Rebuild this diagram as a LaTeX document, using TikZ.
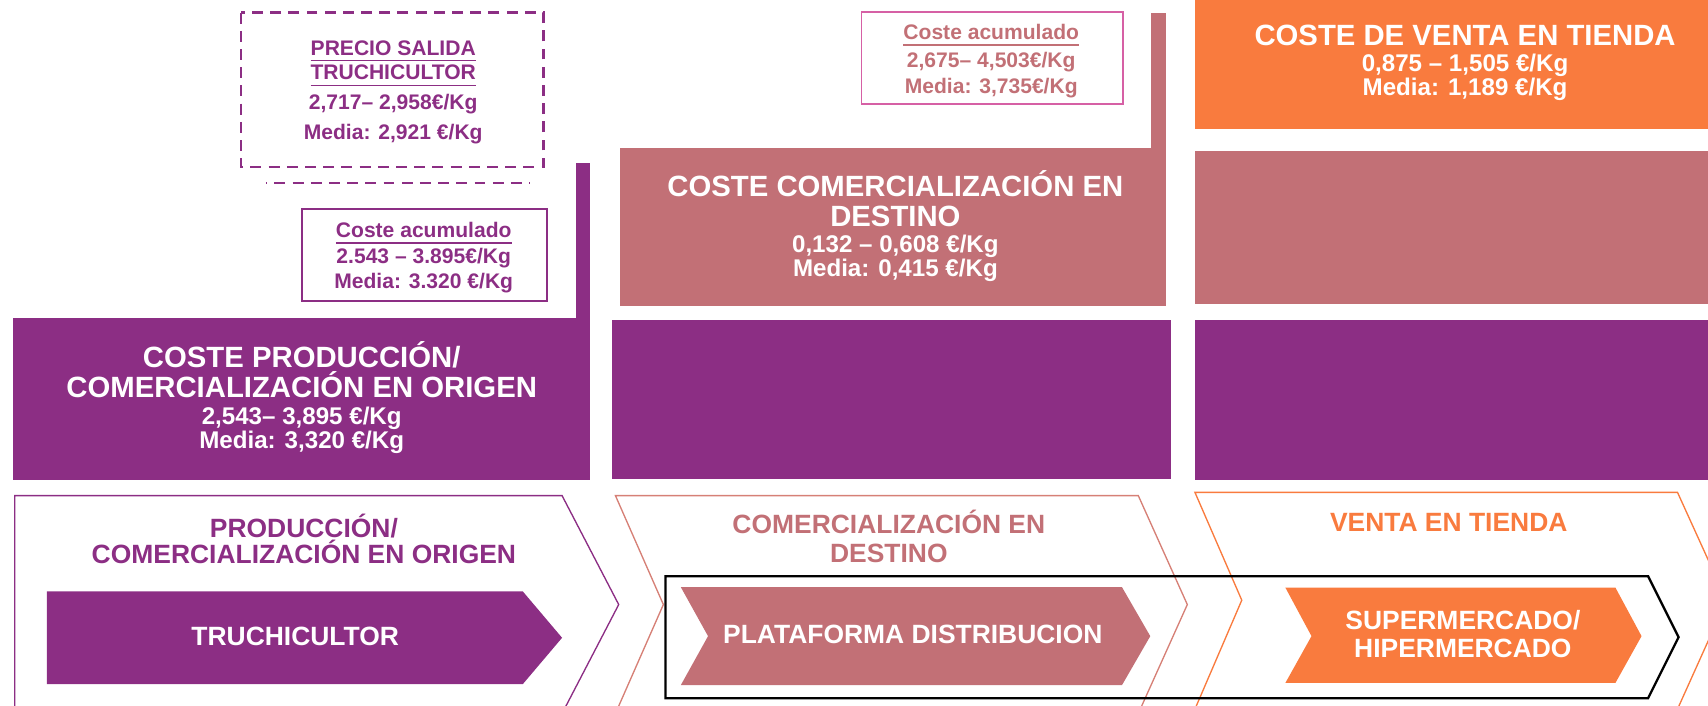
\documentclass[tikz,border=0pt]{standalone}
\usepackage{fontspec}
\setmainfont{Liberation Sans}
\definecolor{cpur}{RGB}{140,46,132}
\definecolor{crose}{RGB}{194,112,118}
\definecolor{corange}{RGB}{249,123,62}
\definecolor{cmag}{RGB}{214,96,165}
\definecolor{csalmon}{RGB}{214,128,118}
\begin{document}
\begin{tikzpicture}[x=0.01cm,y=-0.01cm,
  ttl/.style={font=\fontsize{7.65}{8}\selectfont\bfseries, anchor=base, inner sep=0pt},
  val/.style={font=\fontsize{6.3}{6.5}\selectfont\bfseries, anchor=base, inner sep=0pt},
  sml/.style={font=\fontsize{5.5}{6}\selectfont\bfseries, anchor=base, inner sep=0pt},
  lab/.style={font=\fontsize{6.9}{7.4}\selectfont\bfseries, anchor=base, inner sep=0pt},
  chev/.style={line width=0.35pt},
  dashbox/.style={cpur, line width=0.6pt, dash pattern=on 2.85pt off 1.9pt},
]
\useasboundingbox (0,0) rectangle (1568,648);
\begin{scope}
\clip (0,0) rectangle (1568,648);

% ---------- top: column 1 ----------
\draw[dashbox] (221,11.6) rectangle (499,153);
\draw[dashbox, dash phase=2.5pt] (244,168) -- (487,168);
\node[sml, text=cpur] (ps1) at (361,50.5) {\underline{PRECIO SALIDA}};
\node[sml, text=cpur] (ps2) at (361,73.4) {\underline{TRUCHICULTOR}};
\node[sml, text=cpur] (ps3) at (361,100.4) {2,717– 2,958€/Kg};
\node[sml, text=cpur] (ps4) at (361,128) {Media: 2,921 €/Kg};

\draw[cpur, line width=0.5pt] (277,192) rectangle (502,276);
\node[sml, text=cpur] (ca1) at (389,218) {\underline{Coste acumulado}};
\node[sml, text=cpur] (ca2) at (389,241.8) {2.543 – 3.895€/Kg};
\node[sml, text=cpur] (ca3) at (389,264.8) {Media: 3.320 €/Kg};

\fill[cpur] (12,292) rectangle (542,441);
\fill[cpur] (529,150) rectangle (542,292);
\node[ttl, text=white] (p1a) at (277,337) {COSTE PRODUCCIÓN/};
\node[ttl, text=white] (p1b) at (277,365) {COMERCIALIZACIÓN EN ORIGEN};
\node[val, text=white] (p1c) at (277,389.5) {2,543– 3,895 €/Kg};
\node[val, text=white] (p1d) at (277,412) {Media: 3,320 €/Kg};

% ---------- top: column 2 ----------
\draw[cmag, line width=0.4pt] (791,11) rectangle (1031,95.5);
\node[sml, text=crose] (cb1) at (910,36) {\underline{Coste acumulado}};
\node[sml, text=crose] (cb2) at (910,62) {2,675– 4,503€/Kg};
\node[sml, text=crose] (cb3) at (910,85.5) {Media: 3,735€/Kg};

\fill[crose] (569,136) rectangle (1070,281);
\fill[crose] (1057,12) rectangle (1070,136);
\node[ttl, text=white] (r2a) at (822,180.7) {COSTE COMERCIALIZACIÓN EN};
\node[ttl, text=white] (r2b) at (822,208) {DESTINO};
\node[val, text=white] (r2c) at (822,231.6) {0,132 – 0,608 €/Kg};
\node[val, text=white] (r2d) at (822,254) {Media: 0,415 €/Kg};

\fill[cpur] (562,294) rectangle (1075,440);

% ---------- top: column 3 ----------
\fill[corange] (1097,0) rectangle (1568,118);
\node[ttl, text=white] (o3a) at (1345,42.2) {COSTE DE VENTA EN TIENDA};
\node[val, text=white] (o3b) at (1345,65.8) {0,875 – 1,505 €/Kg};
\node[val, text=white] (o3c) at (1345,87.8) {Media: 1,189 €/Kg};
\fill[crose] (1097,139) rectangle (1568,279);
\fill[cpur] (1097,294) rectangle (1568,441);

% ---------- bottom: chevrons ----------
\draw[chev, cpur] (13.5,660) -- (13.5,455) -- (516,455) -- (568,555) -- (516,655);
\draw[chev, csalmon] (565,655) -- (609,555) -- (565,455) -- (1045,455) -- (1090,555) -- (1045,655);
\draw[chev, corange] (1097,651) -- (1140,551) -- (1097,452) -- (1540,452) -- (1585,551) -- (1540,651);

\draw[black, line width=0.6pt] (611,529) -- (1513,529) -- (1541,585) -- (1513,641) -- (611,641) -- cycle;

\fill[cpur] (43,543) -- (480,543) -- (516,585.5) -- (480,628) -- (43,628) -- cycle;
\fill[crose] (625,539) -- (1030,539) -- (1056,584) -- (1030,629) -- (625,629) -- (650,584) -- cycle;
\fill[corange] (1180,539.4) -- (1483,539.4) -- (1507,584) -- (1483,627) -- (1180,627) -- (1204,584) -- cycle;

\node[lab, text=cpur] (b1a) at (279,493) {PRODUCCIÓN/};
\node[lab, text=cpur] (b1b) at (279,517) {COMERCIALIZACIÓN EN ORIGEN};
\node[lab, text=white] (b1c) at (271,593) {TRUCHICULTOR};

\node[lab, text=crose] (b2a) at (816,489.5) {COMERCIALIZACIÓN EN};
\node[lab, text=crose] (b2b) at (816,516) {DESTINO};
\node[lab, text=white] (b2c) at (838,591) {PLATAFORMA DISTRIBUCION};

\node[lab, text=corange] (b3a) at (1330,488) {VENTA EN TIENDA};
\node[lab, text=white] (b3b) at (1343,577.5) {SUPERMERCADO/};
\node[lab, text=white] (b3c) at (1343,603.7) {HIPERMERCADO};
\end{scope}
\end{tikzpicture}
\end{document}
